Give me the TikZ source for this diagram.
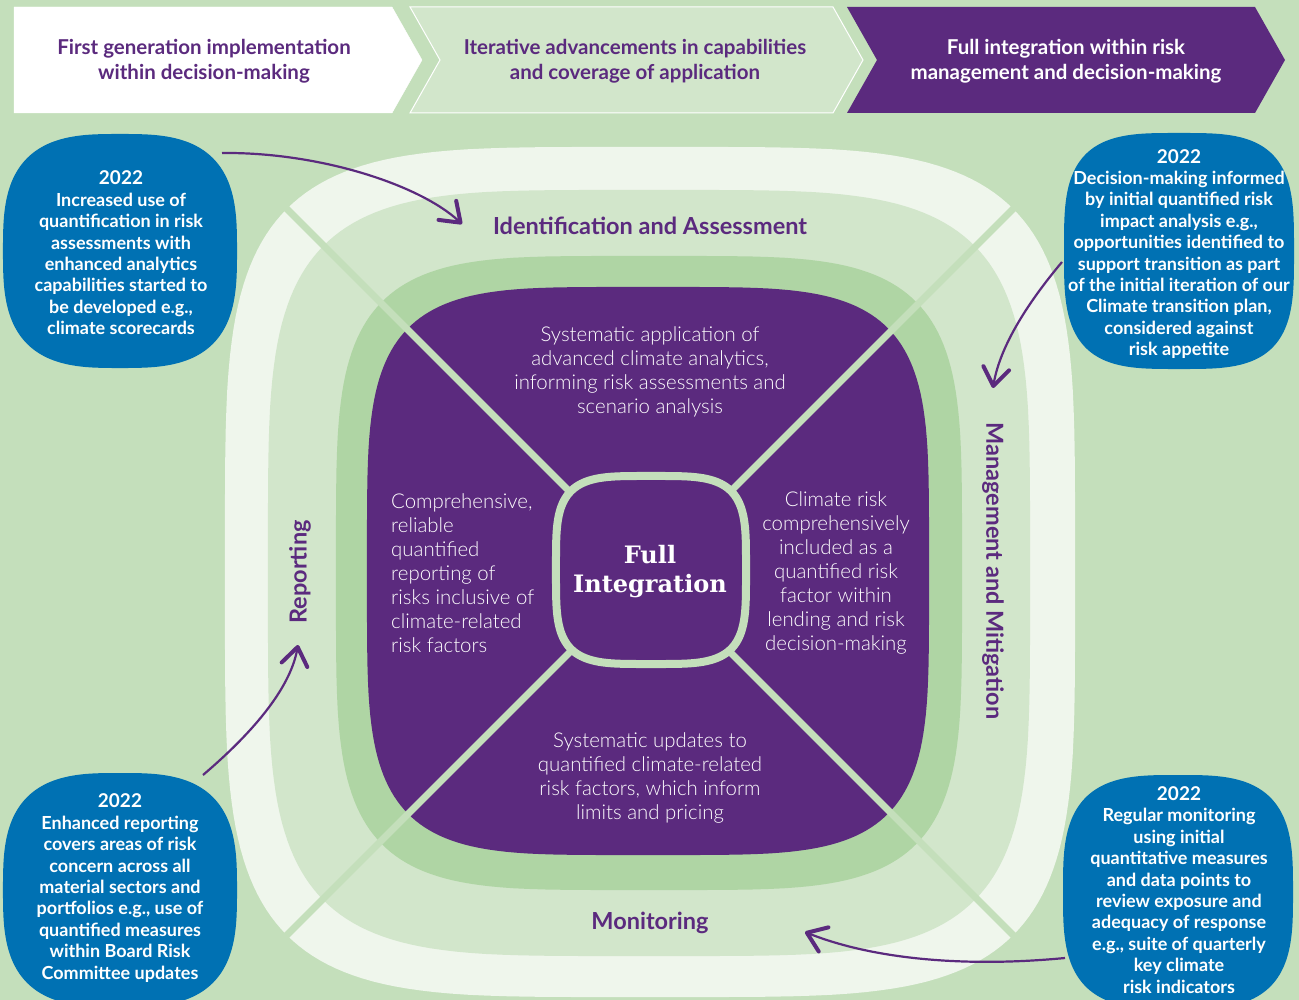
\documentclass[tikz,border=0pt]{standalone}
\usepackage{fontspec}
\setmainfont{Lato}
\newfontfamily\lightfont{Lato Light}
\newfontfamily\slabfont{DejaVu Serif}
\usetikzlibrary{arrows.meta}
\definecolor{bggreen}{HTML}{C4DFBB}
\definecolor{paleband}{HTML}{EFF6EC}
\definecolor{lightband}{HTML}{D2E6CB}
\definecolor{midband}{HTML}{AFD5A4}
\definecolor{deeppurple}{HTML}{5B2A7E}
\definecolor{boxblue}{HTML}{0071B3}
\newcommand\mysquircle[5]{plot[domain=1:361,samples=181,variable=\t]({#1+#3*sign(cos(\t))*pow(abs(cos(\t)),2/#5)},{#2+#4*sign(sin(\t))*pow(abs(sin(\t)),2/#5)}) -- cycle}
\begin{document}
\begin{tikzpicture}[x=1pt,y=-1pt,
  bodytxt/.style={text=white, font=\lightfont\fontsize{20.4}{24}\selectfont, align=center, inner sep=0pt},
  phaselbl/.style={text=deeppurple, font=\bfseries\fontsize{23.5}{26}\selectfont, inner sep=0pt},
  bluetxt/.style={text=white, font=\bfseries\fontsize{18}{21.4}\selectfont, align=center, inner sep=0pt},
  bannertxt/.style={font=\bfseries\fontsize{20.5}{24.5}\selectfont, align=center, inner sep=0pt},
  linkarrow/.style={deeppurple, line width=2.2pt, -{Straight Barb[length=18pt,width=26pt,line width=4pt,round]}}
]
\useasboundingbox (0,0) rectangle (1299,1000);
\fill[bggreen] (0,0) rectangle (1299,1000);

% banner
\filldraw[fill=white, draw=white] (14,7) -- (392,7) -- (422,60) -- (392,113) -- (14,113) -- cycle;
\filldraw[fill=lightband, draw=white, line width=1pt] (410,7) -- (833,7) -- (863,60) -- (833,113) -- (410,113) -- (440,60) -- cycle;
\fill[deeppurple] (847,7) -- (1255,7) -- (1285,60) -- (1255,113) -- (847,113) -- (877,60) -- cycle;
\node[bannertxt, text=deeppurple] (p1) at (204,61) {First generation implementation\\within decision-making};
\node[bannertxt, text=deeppurple] (p2) at (635,61) {Iterative advancements in capabilities\\and coverage of application};
\node[bannertxt, text=white] (p3) at (1066,61) {Full integration within risk\\management and decision-making};

% concentric layers
\fill[paleband] \mysquircle{650}{572}{425}{425}{4.4};
\fill[lightband] \mysquircle{649}{573}{381}{383}{4.4};
\fill[midband] \mysquircle{649}{573}{313}{317}{4.4};
\fill[deeppurple] \mysquircle{648}{571}{281}{284}{4.4};

% diagonals
\draw[bggreen, line width=7pt] (282,204) -- (1018,940);
\draw[bggreen, line width=7pt] (1018,204) -- (282,940);

% centre
\filldraw[fill=deeppurple, draw=bggreen, line width=8pt] \mysquircle{651}{570}{95}{94}{4};
\node[text=white, font=\slabfont\bfseries\fontsize{24}{29}\selectfont, align=center, inner sep=0pt] (core) at (650,572) {Full\\Integration};

% quadrant texts
\node[bodytxt] (qtop) at (650,372) {Systematic application of\\advanced climate analytics,\\informing risk assessments and\\scenario analysis};
\node[bodytxt, align=left, anchor=west] (qleft) at (391,573) {Comprehensive,\\reliable\\quantified\\reporting of\\risks inclusive of\\climate-related\\risk factors};
\node[bodytxt] (qright) at (836,573) {Climate risk\\comprehensively\\included as a\\quantified risk\\factor within\\lending and risk\\decision-making};
\node[bodytxt] (qbot) at (650,778) {Systematic updates to\\quantified climate-related\\risk factors, which inform\\limits and pricing};

% ring labels
\node[phaselbl] (lid) at (650,226) {Identification and Assessment};
\node[phaselbl] (lmon) at (650,923) {Monitoring};
\node[phaselbl, rotate=90] (lrep) at (300,572) {Reporting};
\node[phaselbl, rotate=-90] (lman) at (993,571) {Management and Mitigation};

% blue boxes
\fill[boxblue] \mysquircle{120}{251}{117}{117}{3};
\fill[boxblue] \mysquircle{1179}{251}{115}{118}{3.4};
\fill[boxblue] \mysquircle{120}{890}{117}{117}{3};
\fill[boxblue] \mysquircle{1178}{892}{115}{117}{3.2};
\node[bluetxt] (b1) at (121,253) {{\fontsize{19}{21.4}\selectfont 2022}\\Increased use of\\quantification in risk\\assessments with\\enhanced analytics\\capabilities started to\\be developed e.g.,\\climate scorecards};
\node[bluetxt] (b2) at (1179,254) {{\fontsize{19}{21.4}\selectfont 2022}\\Decision-making informed\\by initial quantified risk\\impact analysis e.g.,\\opportunities identified to\\support transition as part\\of the initial iteration of our\\Climate transition plan,\\considered against\\risk appetite};
\node[bluetxt] (b3) at (120,888) {{\fontsize{19}{21.4}\selectfont 2022}\\Enhanced reporting\\covers areas of risk\\concern across all\\material sectors and\\portfolios e.g., use of\\quantified measures\\within Board Risk\\Committee updates};
\node[bluetxt] (b4) at (1179,890) {{\fontsize{19}{21.4}\selectfont 2022}\\Regular monitoring\\using initial\\quantitative measures\\and data points to\\review exposure and\\adequacy of response\\e.g., suite of quarterly\\key climate\\risk indicators};

% arrows
\coordinate (a1s) at (222,153);
\coordinate (a1e) at (462,224);
\coordinate (a2s) at (1062,262);
\coordinate (a2e) at (993,388);
\coordinate (a3s) at (203,775);
\coordinate (a3e) at (298,645);
\coordinate (a4s) at (1065,958);
\coordinate (a4e) at (805,932);
\draw[linkarrow] (a1s) .. controls (320,152) and (420,185) .. (a1e);
\draw[linkarrow] (a2s) .. controls (1030,300) and (1000,345) .. (a2e);
\draw[linkarrow] (a3s) .. controls (250,735) and (290,690) .. (a3e);
\draw[linkarrow] (a4s) .. controls (960,968) and (870,958) .. (a4e);
\end{tikzpicture}
\end{document}
